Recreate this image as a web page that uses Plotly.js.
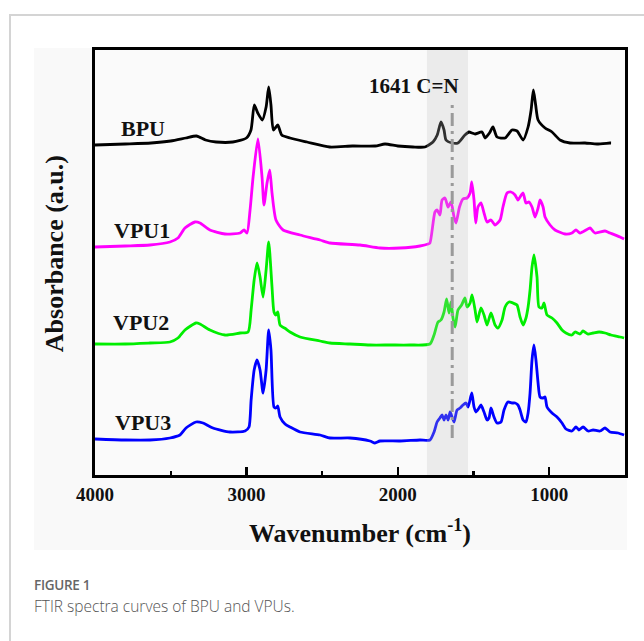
<!DOCTYPE html>
<html>
<head>
<meta charset="utf-8">
<script src="https://cdn.plot.ly/plotly-3.0.1.min.js"></script>
<style>
  html, body { margin: 0; padding: 0; background: #ffffff; }
  #page { position: relative; width: 644px; height: 641px; overflow: hidden; }
  #card { position: absolute; left: 9px; top: 14px; width: 700px; height: 700px;
          border-top: 2px solid #d4d4d4; border-left: 2px solid #d4d4d4; }
  #panel { position: absolute; left: 34px; top: 48px; width: 593px; height: 502px; background: #f9f9f9; }
  #chart { position: absolute; left: 0; top: 0; width: 644px; height: 641px; }
  .cap-label { position: absolute; left: 34px; top: 576px; font-family: "Open Sans", sans-serif;
               font-size: 13.5px; font-weight: 600; color: #666666; letter-spacing: -0.3px; line-height: 18px; }
  .cap-text { position: absolute; left: 34px; top: 595px; font-family: "Open Sans", sans-serif;
              font-size: 15.5px; font-weight: 300; color: #555555; line-height: 22px; }
</style>
</head>
<body>
<div id="page">
  <div id="card"></div>
  <div id="panel"></div>
  <div id="chart"></div>
  <div class="cap-label">FIGURE 1</div>
  <div class="cap-text">FTIR spectra curves of BPU and VPUs.</div>
</div>
<script>
// FTIR spectra, stacked with vertical offsets (arbitrary absorbance units)
const bpuWn = [4000,3800,3630,3500,3400,3330,3270,3200,3090,3000,2970,2948,2925,2895,2870,2853,2838,2822,2793,2767,2712,2600,2450,2300,2150,2085,2000,1900,1821,1768,1740,1715,1695,1682,1642,1603,1557,1530,1510,1490,1444,1424,1395,1372,1345,1292,1246,1213,1173,1140,1120,1105,1090,1074,1028,982,929,863,764,685,599,592];
const bpuAbs = [330,331,332,334,337,339,335,333,333,337,345,370,362,355,368,388,370,345,350,340,337,333,328,329,329,331,329,328,328,333,340,353,345,335,332,332,340,343,342,341,343,337,342,348,338,337,345,344,335,348,365,385,370,355,347,343,335,332,332,331,332,332];

const vpu1Wn = [4000,3800,3637,3505,3452,3406,3340,3307,3241,3141,3042,3016,2996,2976,2956,2924,2897,2884,2864,2846,2831,2805,2758,2646,2514,2448,2250,2118,1986,1854,1800,1788,1755,1741,1722,1708,1689,1668,1649,1629,1616,1593,1570,1543,1523,1512,1497,1486,1471,1451,1431,1411,1385,1358,1325,1306,1279,1253,1226,1207,1193,1173,1154,1134,1114,1094,1074,1061,1041,1028,995,962,896,850,824,797,757,731,698,632,599,533,506];
const vpu1Abs = [228,229,230,233,237,247,253,252,245,241,242,245,242,265,298,336,298,270,292,305,282,255,245,240,235,232,230,227,227,229,231,232,263,265,260,275,277,268,273,258,252,268,276,277,282,293,275,252,268,272,262,253,255,250,255,268,282,283,280,275,278,282,272,273,268,258,267,275,268,258,250,245,241,242,245,242,245,247,242,244,242,238,236];

const vpu2Wn = [4000,3800,3637,3505,3452,3406,3333,3307,3241,3141,3042,2989,2969,2949,2930,2910,2890,2870,2853,2831,2818,2805,2793,2778,2739,2712,2646,2514,2448,2316,2184,2052,1920,1788,1761,1735,1715,1695,1678,1662,1649,1636,1622,1603,1579,1557,1543,1523,1510,1490,1477,1451,1431,1411,1385,1358,1339,1312,1292,1266,1240,1213,1193,1173,1154,1140,1127,1114,1101,1081,1068,1048,1035,1015,982,949,916,890,850,830,797,777,744,711,671,632,592,533,506];
const vpu2Abs = [131,131,132,133,137,145,152,151,145,140,142,143,165,195,212,198,178,205,233,188,163,160,163,150,146,143,138,134,132,131,130,130,130,131,140,153,155,163,176,162,173,157,148,165,170,177,168,172,180,165,153,167,160,150,162,150,147,155,168,173,172,170,158,150,157,168,185,208,220,198,168,167,172,160,157,152,145,142,140,143,141,144,141,142,143,142,140,138,137];

const vpu3Wn = [4000,3800,3637,3505,3439,3399,3333,3287,3221,3109,3009,2983,2969,2949,2930,2910,2890,2870,2853,2838,2818,2805,2793,2778,2745,2712,2646,2514,2448,2316,2184,2151,2118,1986,1854,1788,1761,1741,1722,1708,1695,1682,1668,1655,1642,1629,1609,1589,1570,1550,1536,1512,1497,1484,1464,1451,1431,1411,1398,1385,1365,1345,1319,1299,1273,1246,1226,1207,1193,1173,1154,1140,1127,1114,1101,1088,1074,1061,1041,1028,1015,982,949,916,890,850,824,804,777,744,711,665,632,599,546,506];
const vpu3Abs = [36,35,35,37,40,47,53,52,47,43,44,48,75,105,115,105,82,105,145,125,68,67,69,58,51,48,43,40,37,37,34,32,34,34,35,35,43,53,57,60,55,60,55,63,58,53,65,67,70,72,68,82,68,63,67,70,63,55,57,67,58,52,53,65,73,72,72,70,65,55,53,62,82,115,130,115,92,78,77,78,68,62,58,52,46,44,48,45,48,44,45,44,47,43,42,40];

const seriesNames = ['BPU', 'VPU1', 'VPU2', 'VPU3'];
const seriesColors = ['#000000', '#ff00ff', '#00ee00', '#0000ff'];
const seriesWn = [bpuWn, vpu1Wn, vpu2Wn, vpu3Wn];
const seriesAbs = [bpuAbs, vpu1Abs, vpu2Abs, vpu3Abs];

// where each curve's name sits (wavenumber, absorbance)
const nameWn = [3681, 3687, 3696, 3683];
const nameAbs = [347, 245, 153, 53];

// C=N band: marker line and highlighted window
const cnPeak = 1641;
const cnBand = [1808, 1537];
const cnLineSpan = [37, 375];
const cnLabel = '1641 C=N';
const cnLabelPos = [1893, 389];

const xTicks = [4000, 3000, 2000, 1000];
const xMinorTicks = [3500, 2500, 1500];
const xRange = [4000, 500];
const yRange = [0, 425];

const serif = 'Liberation Serif, Times New Roman, serif';

const traces = seriesNames.map((name, i) => ({
  type: 'scatter',
  mode: 'lines',
  name: name,
  x: seriesWn[i],
  y: seriesAbs[i],
  line: { color: seriesColors[i], width: 2.8, shape: 'spline', smoothing: 0.6 },
  hoverinfo: 'skip'
}));

const annotations = seriesNames.map((name, i) => ({
  x: nameWn[i], y: nameAbs[i], xref: 'x', yref: 'y',
  text: '<b>' + name + '</b>', showarrow: false,
  font: { family: serif, size: 22, color: '#111111' },
  xanchor: 'center', yanchor: 'middle'
}));
annotations.push({
  x: cnLabelPos[0], y: cnLabelPos[1], xref: 'x', yref: 'y',
  text: '<b>' + cnLabel + '</b>', showarrow: false,
  font: { family: serif, size: 21, color: '#111111' },
  xanchor: 'center', yanchor: 'middle'
});
// vertical axis caption, placed beside the frame
annotations.push({
  x: -0.077, y: 0.52, xref: 'paper', yref: 'paper',
  text: '<b>Absorbance (a.u.)</b>', showarrow: false, textangle: -90,
  font: { family: serif, size: 26, color: '#111111' },
  xanchor: 'center', yanchor: 'middle'
});

const layout = {
  width: 644, height: 641,
  margin: { l: 95, r: 19, t: 50, b: 166 },
  paper_bgcolor: 'rgba(0,0,0,0)',
  plot_bgcolor: '#fafafa',
  showlegend: false,
  xaxis: {
    range: xRange,
    showline: true, linecolor: '#000000', linewidth: 2.6, mirror: true,
    showgrid: false, zeroline: false,
    ticks: 'inside', ticklen: 8, tickwidth: 2.2, tickcolor: '#000000',
    tickmode: 'array', tickvals: xTicks, ticktext: xTicks.map(v => '<b>' + v + '</b>'),
    minor: { tickmode: 'array', tickvals: xMinorTicks, ticks: 'inside', ticklen: 4, tickwidth: 2.2, tickcolor: '#000000' },
    tickfont: { family: serif, size: 19, color: '#111111' },
    ticklabelstandoff: 1,
    title: { text: '<b>Wavenumber (cm<sup>-1</sup>)</b>', font: { family: serif, size: 26, color: '#111111' }, standoff: 20 }
  },
  yaxis: {
    range: yRange,
    showline: true, linecolor: '#000000', linewidth: 2.6, mirror: true,
    showgrid: false, zeroline: false, ticks: '', showticklabels: false
  },
  shapes: [
    {
      type: 'rect', xref: 'x', yref: 'paper', x0: cnBand[0], x1: cnBand[1], y0: 0, y1: 1,
      fillcolor: 'rgba(190,190,190,0.25)', line: { width: 0 }, layer: 'above'
    },
    {
      type: 'line', xref: 'x', yref: 'y', x0: cnPeak, x1: cnPeak, y0: cnLineSpan[0], y1: cnLineSpan[1],
      line: { color: '#9a9a9a', width: 3, dash: '13px,5px,3px,5px' }, layer: 'above'
    }
  ],
  annotations: annotations
};

Plotly.newPlot('chart', traces, layout, { staticPlot: true, displayModeBar: false });
</script>
</body>
</html>
